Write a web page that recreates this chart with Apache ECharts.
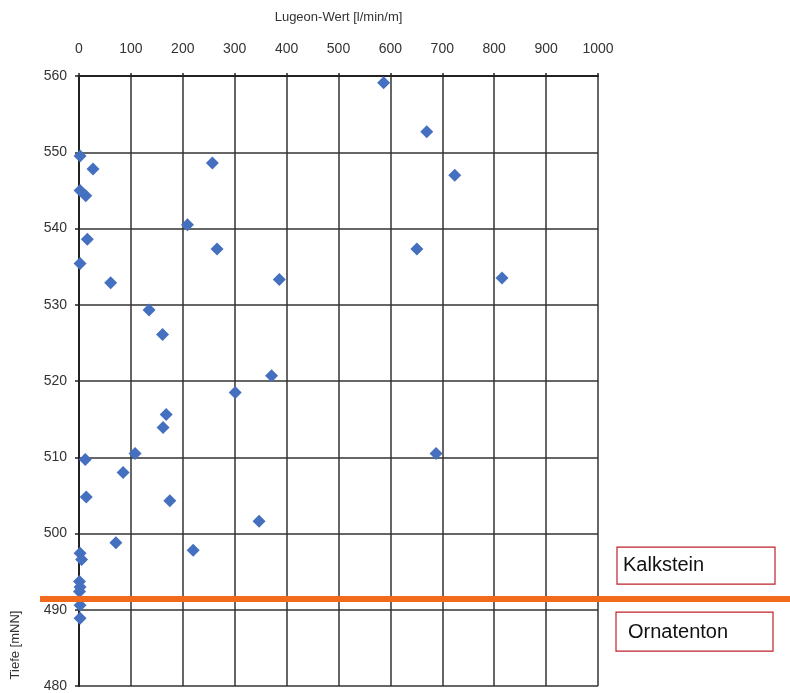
<!DOCTYPE html>
<html>
<head>
<meta charset="utf-8">
<script src="https://cdn.jsdelivr.net/npm/echarts@6/dist/echarts.min.js"></script>
<style>html,body{margin:0;padding:0;background:#fff}#c{width:790px;height:693px}</style>
</head>
<body>
<div id="c"></div>
<script>
// Data
const lugeon = [587, 670, 2, 257, 27, 724, 2, 13, 209, 16, 266, 651, 2, 815, 386, 61, 135, 161, 371, 301, 168, 162, 108, 688, 12, 85, 14, 175, 347, 71, 220, 2, 5, 1, 2, 1, 2, 2];
const depth  = [559.1, 552.7, 549.5, 548.6, 547.8, 547.0, 545.0, 544.3, 540.5, 538.6, 537.3, 537.3, 535.4, 533.5, 533.3, 532.9, 529.3, 526.1, 520.7, 518.5, 515.6, 513.9, 510.5, 510.5, 509.7, 508.0, 504.8, 504.3, 501.6, 498.8, 497.8, 497.4, 496.6, 493.7, 493.0, 492.4, 490.6, 488.9];
const boundary = 491.4;
const layerAbove = 'Kalkstein';
const layerBelow = 'Ornatenton';
const xTitle = 'Lugeon-Wert [l/min/m]';
const yTitle = 'Tiefe [mNN]';

const points = lugeon.map((v, i) => [v, depth[i]]);
const chart = echarts.init(document.getElementById('c'), null, {renderer: 'canvas'});
const txt = '#333';
const font = 'Liberation Sans, Arial, sans-serif';

chart.setOption({
  animation: false,
  grid: {left: 79, right: 192, top: 76, bottom: 7, containLabel: false, outerBoundsMode: 'none'},
  xAxis: {
    type: 'value', position: 'top', min: 0, max: 1000, interval: 100,
    name: xTitle, nameLocation: 'middle', nameGap: 52,
    nameTextStyle: {color: txt, fontSize: 13, fontFamily: font},
    axisLine: {show: true, lineStyle: {color: '#222', width: 2}},
    axisTick: {show: true, inside: false, length: 3, lineStyle: {color: '#222', width: 1.5}},
    axisLabel: {color: txt, fontSize: 14, fontFamily: font, margin: 20, formatter: v => String(v)},
    splitLine: {show: true, lineStyle: {color: '#333', width: 1.5}}
  },
  yAxis: {
    type: 'value', min: 480, max: 560, interval: 10,
    axisLine: {show: true, onZero: false, lineStyle: {color: '#222', width: 2}},
    axisTick: {show: true, length: 4, lineStyle: {color: '#222', width: 1.5}},
    axisLabel: {color: txt, fontSize: 14, fontFamily: font, margin: 12},
    splitLine: {show: true, lineStyle: {color: '#333', width: 1.5}}
  },
  series: [{
    type: 'scatter', data: points, symbol: 'diamond', symbolSize: 13,
    itemStyle: {color: '#4570c0', opacity: 1}, z: 5
  }]
});

function drawOverlay() {
  const y = chart.convertToPixel({yAxisIndex: 0}, boundary);
  chart.setOption({
    graphic: [
      {type: 'text', z: 101, x: 15, y: 645, rotation: Math.PI / 2, style: {text: yTitle, fill: txt, font: '13px ' + font, align: 'center', verticalAlign: 'middle'}},
      {type: 'line', z: 100, shape: {x1: 40, y1: y, x2: 790, y2: y}, style: {stroke: '#f26b1d', lineWidth: 6}},
      {type: 'rect', z: 100, shape: {x: 617, y: y - 52, width: 158, height: 37}, style: {fill: '#fff', stroke: '#c0202a', lineWidth: 1.2}},
      {type: 'text', z: 101, x: 623, y: y - 33.5, style: {text: layerAbove, fill: '#111', font: '20px ' + font, verticalAlign: 'middle'}},
      {type: 'rect', z: 100, shape: {x: 616, y: y + 13, width: 157, height: 39}, style: {fill: '#fff', stroke: '#c0202a', lineWidth: 1.2}},
      {type: 'text', z: 101, x: 628, y: y + 33, style: {text: layerBelow, fill: '#111', font: '20px ' + font, verticalAlign: 'middle'}}
    ]
  });
}
drawOverlay();
</script>
</body>
</html>
